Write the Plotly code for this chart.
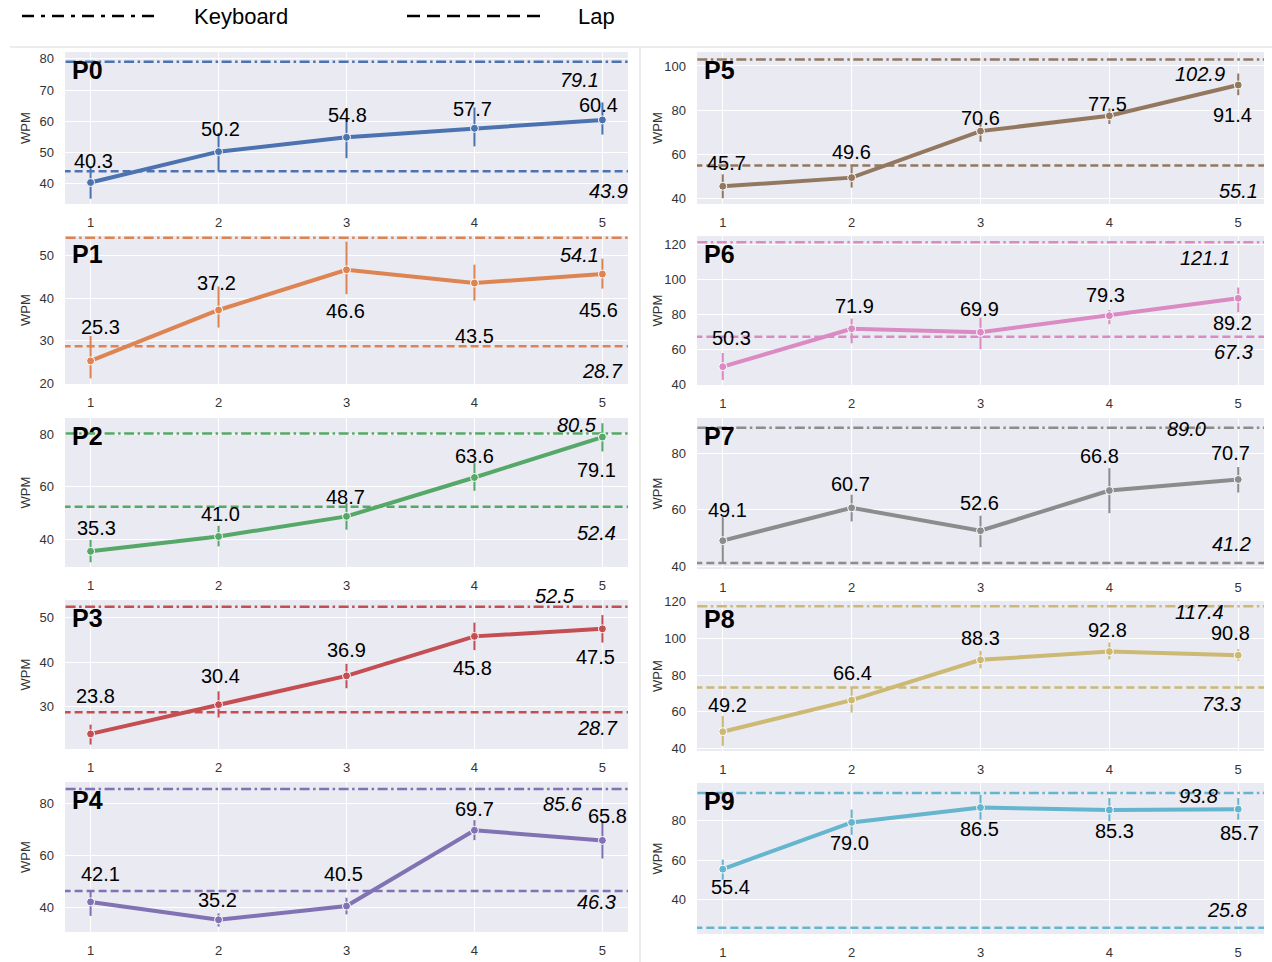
import plotly.graph_objects as go

# ---- data: mean WPM per session with confidence-interval bounds ----
sessions = [1, 2, 3, 4, 5]
participants = ["P0", "P1", "P2", "P3", "P4", "P5", "P6", "P7", "P8", "P9"]

p0_wpm = [40.3, 50.2, 54.8, 57.7, 60.4]
p1_wpm = [25.3, 37.2, 46.6, 43.5, 45.6]
p2_wpm = [35.3, 41.0, 48.7, 63.6, 79.1]
p3_wpm = [23.8, 30.4, 36.9, 45.8, 47.5]
p4_wpm = [42.1, 35.2, 40.5, 69.7, 65.8]
p5_wpm = [45.7, 49.6, 70.6, 77.5, 91.4]
p6_wpm = [50.3, 71.9, 69.9, 79.3, 89.2]
p7_wpm = [49.1, 60.7, 52.6, 66.8, 70.7]
p8_wpm = [49.2, 66.4, 88.3, 92.8, 90.8]
p9_wpm = [55.4, 79.0, 86.5, 85.3, 85.7]

p0_ci_low = [35.1, 43.8, 48.1, 51.9, 55.7]
p0_ci_high = [45.4, 56.2, 60.6, 64.4, 66.0]
p1_ci_low = [21.2, 33.1, 40.9, 39.4, 42.2]
p1_ci_high = [31.1, 42.7, 53.2, 47.8, 49.2]
p2_ci_low = [31.1, 37.2, 43.6, 58.5, 73.6]
p2_ci_high = [39.7, 45.1, 53.8, 69.1, 84.4]
p3_ci_low = [21.4, 27.5, 34.1, 42.7, 44.4]
p3_ci_high = [25.9, 33.4, 39.6, 48.9, 50.6]
p4_ci_low = [36.7, 32.6, 37.3, 65.9, 58.8]
p4_ci_high = [46.7, 37.7, 43.7, 73.6, 73.0]
p5_ci_low = [40.3, 45.1, 65.8, 73.8, 86.8]
p5_ci_high = [51.1, 54.6, 75.6, 80.8, 96.6]
p6_ci_low = [42.8, 63.6, 60.3, 74.5, 81.3]
p6_ci_high = [58.1, 77.6, 78.2, 82.6, 95.3]
p7_ci_low = [40.9, 55.9, 46.8, 58.8, 66.1]
p7_ci_high = [57.4, 65.3, 57.9, 74.7, 75.1]
p8_ci_low = [41.5, 59.6, 83.7, 88.6, 87.7]
p8_ci_high = [57.8, 73.2, 93.2, 97.7, 94.1]
p9_ci_low = [50.1, 72.8, 80.4, 79.6, 80.4]
p9_ci_high = [60.2, 85.5, 93.0, 91.3, 91.3]

# reference speeds: physical keyboard and lap typing
keyboard_wpm = [79.1, 54.1, 80.5, 52.5, 85.6, 102.9, 121.1, 89.0, 117.4, 93.8]
lap_wpm = [43.9, 28.7, 52.4, 28.7, 46.3, 55.1, 67.3, 41.2, 73.3, 25.8]

wpm = [p0_wpm, p1_wpm, p2_wpm, p3_wpm, p4_wpm, p5_wpm, p6_wpm, p7_wpm, p8_wpm, p9_wpm]
ci_low = [p0_ci_low, p1_ci_low, p2_ci_low, p3_ci_low, p4_ci_low,
          p5_ci_low, p6_ci_low, p7_ci_low, p8_ci_low, p9_ci_low]
ci_high = [p0_ci_high, p1_ci_high, p2_ci_high, p3_ci_high, p4_ci_high,
           p5_ci_high, p6_ci_high, p7_ci_high, p8_ci_high, p9_ci_high]

# ---- styling / layout ----
W, H = 1272, 962
COLORS = ["#4C72B0", "#DD8452", "#55A868", "#C44E52", "#8172B3",
          "#937860", "#DA8BC3", "#8C8C8C", "#CCB974", "#64B5CD"]
FONT = "Liberation Sans, Arial, Helvetica, sans-serif"

COL_X = [(65, 628), (697, 1264)]
ROW_Y = [
    [(52, 204), (236, 384), (418, 567), (600, 749), (782, 932)],
    [(52, 204), (236, 385), (418, 569), (601, 751), (783, 934)],
]
Y_RANGES = [(33.4, 82.2), (19.9, 54.5), (29.3, 86.4), (20.4, 54.0), (30.5, 88.3),
            (37.7, 106.3), (39.9, 124.6), (39.1, 92.4), (38.7, 120.3), (22.7, 98.9)]
Y_DTICK = [10, 10, 20, 10, 20, 20, 20, 20, 20, 20]

# value-label placement (dx, dy in pixels; dy > 0 means below the point)
LABEL_OFFSETS = [
    [(3, -22), (2, -23), (1, -22), (-2, -19), (-4, -15)],
    [(10, -34), (-2, -27), (-1, 41), (0, 53), (-4, 36)],
    [(6, -23), (2, -22), (-1, -19), (0, -21), (-6, 33)],
    [(5, -38), (2, -29), (0, -26), (-2, 32), (-7, 28)],
    [(10, -28), (-1, -20), (-3, -32), (0, -21), (5, -24)],
    [(4, -23), (0, -26), (0, -13), (-2, -12), (-6, 30)],
    [(9, -29), (3, -23), (-1, -23), (-4, -21), (-6, 25)],
    [(5, -31), (-1, -24), (-1, -28), (-10, -35), (-8, -26)],
    [(5, -27), (1, -27), (0, -22), (-2, -22), (-8, -22)],
    [(8, 18), (-2, 21), (-1, 21), (5, 21), (1, 24)],
]
# reference-line labels: (x position in session units, dy in pixels)
KB_LABEL_POS = [(4.82, 18), (4.82, 17), (4.80, -8), (4.63, -11), (4.69, 15),
                (4.70, 14), (4.74, 16), (4.60, 1), (4.70, 6), (4.69, 3)]
LAP_LABEL_POS = [(5.05, 20), (5.0, 25), (4.95, 26), (4.96, 16), (4.95, 11),
                 (5.0, 26), (4.96, 15), (4.95, -19), (4.87, 17), (4.91, -18)]

DASHDOT = "10px,3.5px,2.5px,3.5px"
DASHED = "8px,4px"

fig = go.Figure()
annotations = []
shapes = []
layout_axes = {}

for i, name in enumerate(participants):
    col, row = divmod(i, 5)
    n = i + 1
    xa = "x" if n == 1 else f"x{n}"
    ya = "y" if n == 1 else f"y{n}"
    color = COLORS[i]
    x0p, x1p = COL_X[col]
    ytop, ybot = ROW_Y[col][row]

    layout_axes["xaxis" if n == 1 else f"xaxis{n}"] = dict(
        domain=[x0p / W, x1p / W], anchor=ya, range=[0.8, 5.2], automargin=False,
        tickmode="array", tickvals=sessions, ticktext=[str(s) for s in sessions],
        showgrid=True, gridcolor="white", gridwidth=1.2, zeroline=False,
        showline=False, ticks="", ticklabelstandoff=9,
        tickfont=dict(family=FONT, size=13, color="#333333"),
    )
    layout_axes["yaxis" if n == 1 else f"yaxis{n}"] = dict(
        domain=[1 - ybot / H, 1 - ytop / H], anchor=xa, range=list(Y_RANGES[i]),
        dtick=Y_DTICK[i], tick0=0, automargin=False,
        showgrid=True, gridcolor="white", gridwidth=1.2, zeroline=False,
        showline=False, ticks="", ticklabelstandoff=10,
        tickfont=dict(family=FONT, size=13, color="#333333"),
    )

    # keyboard and lap reference lines
    fig.add_trace(go.Scatter(
        x=[0.5, 5.5], y=[keyboard_wpm[i]] * 2, xaxis=xa, yaxis=ya, mode="lines",
        line=dict(color=color, width=2.5, dash=DASHDOT), hoverinfo="skip", showlegend=False))
    fig.add_trace(go.Scatter(
        x=[0.5, 5.5], y=[lap_wpm[i]] * 2, xaxis=xa, yaxis=ya, mode="lines",
        line=dict(color=color, width=2.5, dash=DASHED), hoverinfo="skip", showlegend=False))

    # session means with confidence interval bars
    err_plus = [h - m for h, m in zip(ci_high[i], wpm[i])]
    err_minus = [m - l for m, l in zip(wpm[i], ci_low[i])]
    fig.add_trace(go.Scatter(
        x=sessions, y=wpm[i], xaxis=xa, yaxis=ya, mode="lines+markers",
        line=dict(color=color, width=4),
        marker=dict(size=8, color=color, line=dict(color="white", width=1)),
        error_y=dict(type="data", symmetric=False, array=err_plus, arrayminus=err_minus,
                     color=color, thickness=2, width=0),
        showlegend=False, name=name))

    # value labels
    for s, v, (dx, dy) in zip(sessions, wpm[i], LABEL_OFFSETS[i]):
        annotations.append(dict(
            x=s, y=v, xref=xa, yref=ya, text=f"{v:.1f}", showarrow=False,
            xanchor="center", yanchor="middle",
            xshift=dx, yshift=-dy, font=dict(family=FONT, size=20, color="black")))
    kx, kdy = KB_LABEL_POS[i]
    annotations.append(dict(
        x=kx, y=keyboard_wpm[i], xref=xa, yref=ya, text=f"<i>{keyboard_wpm[i]:.1f}</i>",
        xanchor="center", yanchor="middle",
        showarrow=False, yshift=-kdy, font=dict(family=FONT, size=20, color="black")))
    lx, ldy = LAP_LABEL_POS[i]
    annotations.append(dict(
        x=lx, y=lap_wpm[i], xref=xa, yref=ya, text=f"<i>{lap_wpm[i]:.1f}</i>",
        xanchor="center", yanchor="middle",
        showarrow=False, yshift=-ldy, font=dict(family=FONT, size=20, color="black")))

    # panel name
    annotations.append(dict(
        x=0, y=1, xref=f"{xa} domain", yref=f"{ya} domain", text=f"<b>{name}</b>",
        xanchor="left", yanchor="top", xshift=5, yshift=-2, showarrow=False,
        font=dict(family=FONT, size=25, color="black")))

    # y-axis title
    annotations.append(dict(
        x=(x0p - 40) / W, y=1 - (ytop + ybot) / 2 / H, xref="paper", yref="paper",
        xanchor="center", yanchor="middle",
        text="WPM", textangle=-90, showarrow=False,
        font=dict(family=FONT, size=13, color="#333333")))

# legend drawn at the top of the figure
shapes.append(dict(type="line", xref="paper", yref="paper", x0=22 / W, x1=158 / W,
                   y0=1 - 16 / H, y1=1 - 16 / H,
                   line=dict(color="black", width=2.5, dash="12px,7px,4px,7px")))
shapes.append(dict(type="line", xref="paper", yref="paper", x0=407 / W, x1=542 / W,
                   y0=1 - 16 / H, y1=1 - 16 / H,
                   line=dict(color="black", width=2.5, dash="13px,7px")))
annotations.append(dict(x=192 / W, y=1 - 16 / H, xref="paper", yref="paper", text="Keyboard",
                        xanchor="left", yanchor="middle", showarrow=False,
                        font=dict(family=FONT, size=22, color="black")))
annotations.append(dict(x=576 / W, y=1 - 16 / H, xref="paper", yref="paper", text="Lap",
                        xanchor="left", yanchor="middle", showarrow=False,
                        font=dict(family=FONT, size=22, color="black")))

# thin frame lines separating legend and columns
shapes.append(dict(type="line", xref="paper", yref="paper", x0=10 / W, x1=1,
                   y0=1 - 47 / H, y1=1 - 47 / H, line=dict(color="#d9d9d9", width=1)))
shapes.append(dict(type="line", xref="paper", yref="paper", x0=640 / W, x1=640 / W,
                   y0=0, y1=1 - 47 / H, line=dict(color="#d9d9d9", width=1)))

fig.update_layout(
    width=W, height=H, margin=dict(l=0, r=0, t=0, b=0, autoexpand=False),
    paper_bgcolor="white", plot_bgcolor="#EAEAF2",
    showlegend=False, annotations=annotations, shapes=shapes,
    **layout_axes,
)

fig.write_html("out.html")
